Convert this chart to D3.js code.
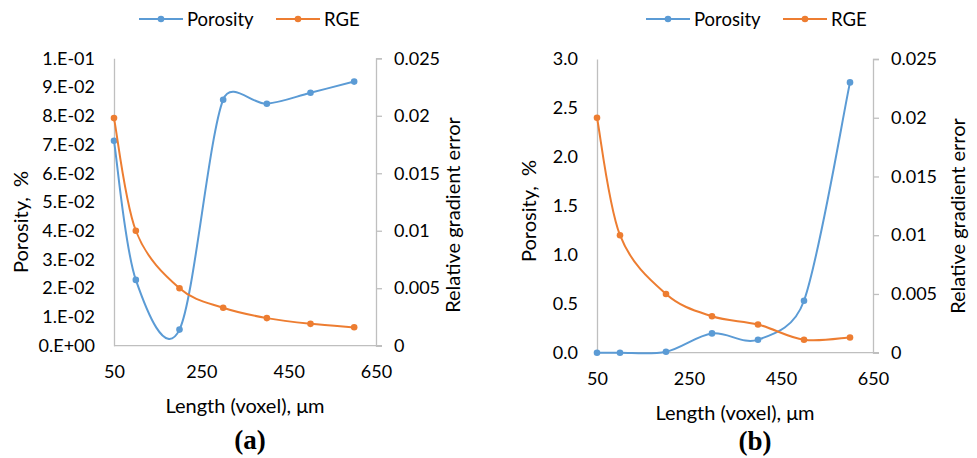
<!DOCTYPE html>
<html>
<head>
<meta charset="utf-8">
<script src="https://cdn.jsdelivr.net/npm/d3@7"></script>
<style>
  body { margin: 0; background: #fff; }
</style>
</head>
<body>
<svg width="977" height="458"></svg>
<script>
// data
const lengths = [50, 100, 200, 300, 400, 500, 600];
const porosityA = [0.0713, 0.0229, 0.0056, 0.0856, 0.0842, 0.0880, 0.0919];
const rgeA = [0.0198, 0.0100, 0.0050, 0.0033, 0.0024, 0.0019, 0.0016];
const porosityB = [0, 0, 0.01, 0.197, 0.133, 0.531, 2.761];
const rgeB = [0.0200, 0.0100, 0.0050, 0.0031, 0.0024, 0.0011, 0.0013];

const xTicks = [50, 250, 450, 650];
const rgeTicks = [0, 0.005, 0.01, 0.015, 0.02, 0.025];
const rgeTickLabels = ["0", "0.005", "0.01", "0.015", "0.02", "0.025"];
const porTicksA = d3.range(0, 11).map(i => i / 100);
const porTickLabelsA = ["0.E+00", "1.E-02", "2.E-02", "3.E-02", "4.E-02", "5.E-02",
                        "6.E-02", "7.E-02", "8.E-02", "9.E-02", "1.E-01"];
const porTicksB = [0, 0.5, 1, 1.5, 2, 2.5, 3];
const porTickLabelsB = ["0.0", "0.5", "1.0", "1.5", "2.0", "2.5", "3.0"];

const blue = "#5b9bd5", orange = "#ed7d31", grey = "#bfbfbf";
const FONT = "Lato, 'Open Sans', sans-serif";
const svg = d3.select("svg");

// spreadsheet-style smoothing: bezier handles of 1/6 of the neighbour chord,
// capped at half of the segment length
function smoothPath(pts) {
    const p = d3.path();
    const dist = (a, b) => Math.hypot(b[0] - a[0], b[1] - a[1]);
    p.moveTo(pts[0][0], pts[0][1]);
    for (let i = 0; i < pts.length - 1; i++) {
        const p0 = pts[Math.max(i - 1, 0)], p1 = pts[i], p2 = pts[i + 1],
              p3 = pts[Math.min(i + 2, pts.length - 1)];
        const seg = dist(p1, p2);
        const d02 = dist(p0, p2), d13 = dist(p1, p3);
        const f1 = d02 > 0 ? Math.min(1 / 6, seg / 2 / d02) : 0;
        const f2 = d13 > 0 ? Math.min(1 / 6, seg / 2 / d13) : 0;
        p.bezierCurveTo(
            p1[0] + f1 * (p2[0] - p0[0]), p1[1] + f1 * (p2[1] - p0[1]),
            p2[0] - f2 * (p3[0] - p1[0]), p2[1] - f2 * (p3[1] - p1[1]),
            p2[0], p2[1]);
    }
    return p.toString();
}

function drawPanel(p) {
    const g = svg.append("g");
    const x = d3.scaleLinear().domain([50, 650]).range([p.left, p.right]);
    const yL = d3.scaleLinear().domain([0, p.porMax]).range([p.bottom, p.top]);
    const yR = d3.scaleLinear().domain([0, 0.025]).range([p.bottom, p.top]);

    // axes
    const ax = g.append("g").attr("transform", "translate(0," + p.bottom + ")")
        .call(d3.axisBottom(x).tickValues(xTicks).tickSize(0).tickPadding(p.xPad).tickFormat(d3.format("d")));
    const al = g.append("g").attr("transform", "translate(" + p.left + ",0)")
        .call(d3.axisLeft(yL).tickValues(p.porTicks).tickSize(0).tickPadding(19)
            .tickFormat((d, i) => p.porLabels[i]));
    const ar = g.append("g").attr("transform", "translate(" + p.right + ",0)")
        .call(d3.axisRight(yR).tickValues(rgeTicks).tickSize(6).tickPadding(12)
            .tickFormat((d, i) => rgeTickLabels[i]));
    [ax, al, ar].forEach(a => {
        a.selectAll("path").attr("stroke", grey).attr("stroke-width", 1.3);
        a.selectAll("line").attr("stroke", grey).attr("stroke-width", 1.3);
        a.selectAll("text").attr("font-size", 18).attr("font-family", FONT).attr("fill", "#000");
    });
    ax.select(".domain").attr("d", "M" + p.left + ",0H" + (p.right + 6));

    // series
    const series = [
        { vals: p.por, y: yL, color: blue },
        { vals: p.rge, y: yR, color: orange }
    ];
    series.forEach(s => {
        const pts = lengths.map((l, i) => [x(l), s.y(s.vals[i])]);
        g.append("path")
            .attr("d", smoothPath(pts))
            .attr("fill", "none")
            .attr("stroke", s.color)
            .attr("stroke-width", 2);
        g.selectAll(null).data(pts).join("circle")
            .attr("cx", d => d[0]).attr("cy", d => d[1]).attr("r", 3.3)
            .attr("fill", s.color);
    });

    // axis titles
    g.append("text").attr("x", (p.left + p.right) / 2 + p.xTitleDx).attr("y", p.bottom + p.xTitleDy)
        .attr("text-anchor", "middle").attr("dominant-baseline", "central")
        .attr("font-family", FONT).attr("font-size", 20).text("Length (voxel), μm");
    g.append("text").attr("transform", "translate(" + p.yLx + "," + p.yLy + ") rotate(-90)")
        .attr("text-anchor", "middle").attr("dominant-baseline", "central")
        .attr("font-family", FONT).attr("font-size", 20)
        .attr("xml:space", "preserve").text("Porosity,  %");
    g.append("text").attr("transform", "translate(" + p.yRx + "," + p.yRy + ") rotate(-90)")
        .attr("text-anchor", "middle").attr("dominant-baseline", "central")
        .attr("font-family", FONT).attr("font-size", 20).text("Relative gradient error");

    // panel letter
    g.append("text").attr("x", p.tagX).attr("y", p.tagY)
        .attr("text-anchor", "middle")
        .attr("font-family", "'Liberation Serif', 'DejaVu Serif', serif").attr("font-weight", "bold")
        .attr("font-size", 27).text(p.tag);

    // legend
    const leg = g.append("g").attr("transform", "translate(" + p.legX + ",19)");
    [["Porosity", blue, 0], ["RGE", orange, 137]].forEach(([name, c, dx]) => {
        leg.append("line").attr("x1", dx).attr("x2", dx + 44).attr("y1", 0).attr("y2", 0)
            .attr("stroke", c).attr("stroke-width", 2);
        leg.append("circle").attr("cx", dx + 22).attr("cy", 0).attr("r", 3.3).attr("fill", c);
        leg.append("text").attr("x", dx + 48).attr("y", 0).attr("dominant-baseline", "central")
            .attr("font-family", FONT).attr("font-size", 18.5).text(name);
    });
}

drawPanel({
    left: 114, right: 376, top: 58.3, bottom: 345.7,
    porMax: 0.1, porTicks: porTicksA, porLabels: porTickLabelsA,
    por: porosityA, rge: rgeA, xPad: 20,
    xTitleDx: 0, xTitleDy: 59, yLx: 20, yLy: 222, yRx: 452, yRy: 215,
    tag: "(a)", tagX: 250, tagY: 449, legX: 139
});
drawPanel({
    left: 597, right: 873, top: 59, bottom: 352.7,
    porMax: 3, porTicks: porTicksB, porLabels: porTickLabelsB,
    por: porosityB, rge: rgeB, xPad: 20,
    xTitleDx: 0, xTitleDy: 59, yLx: 528, yLy: 211, yRx: 957, yRy: 216,
    tag: "(b)", tagX: 755, tagY: 450, legX: 646
});
</script>
</body>
</html>
